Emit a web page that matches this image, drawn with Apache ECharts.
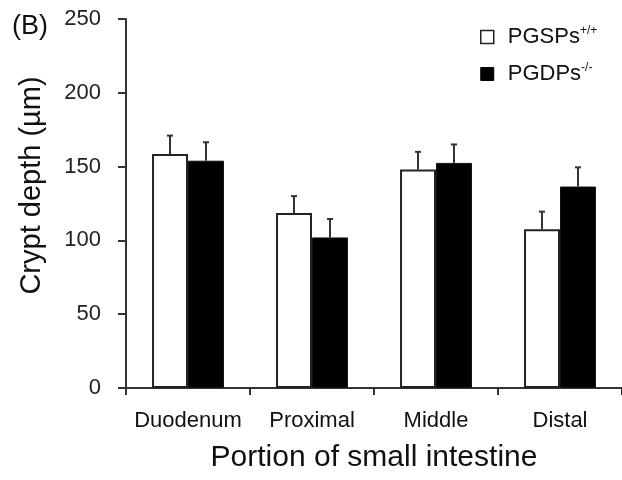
<!DOCTYPE html>
<html>
<head>
<meta charset="utf-8">
<script src="https://cdn.jsdelivr.net/npm/echarts@6/dist/echarts.min.js"></script>
<style>
html, body { margin: 0; padding: 0; background: #fff; }
#chart { width: 622px; height: 480px; }
</style>
</head>
<body>
<div id="chart"></div>
<script>
// data
var portions = ['Duodenum', 'Proximal', 'Middle', 'Distal'];
var wildMean = [158.5, 118.5, 148, 107.5];
var wildErr = [12.5, 11.5, 12, 12];
var knockMean = [154, 102, 152.5, 136.5];
var knockErr = [12.5, 12.5, 12.5, 13];
var yTicks = [0, 50, 100, 150, 200, 250];

var font = 'Liberation Sans, Arial, sans-serif';
var barFrac = 0.29;   // bar width as share of category

function errorSeries(means, errs, side) {
  return {
    type: 'custom',
    z: 1,
    data: means.map(function (m, i) { return [i, m, m + errs[i]]; }),
    renderItem: function (params, api) {
      var band = api.size([1, 0])[0];
      var base = api.coord([api.value(0), api.value(1)]);
      var top = api.coord([api.value(0), api.value(2)]);
      var x = base[0] + side * band * barFrac / 2;
      var style = { stroke: '#333', lineWidth: 2 };
      return {
        type: 'group',
        children: [
          { type: 'line', shape: { x1: x, y1: base[1], x2: x, y2: top[1] }, style: style },
          { type: 'line', shape: { x1: x - 3, y1: top[1], x2: x + 3, y2: top[1] }, style: style }
        ]
      };
    }
  };
}

var chart = echarts.init(document.getElementById('chart'));
chart.setOption({
  animation: false,
  backgroundColor: '#fff',
  title: {
    text: '(B)',
    left: 7,
    top: 8,
    textStyle: { fontFamily: font, fontSize: 27, fontWeight: 'normal', color: '#111' }
  },
  legend: {
    orient: 'vertical',
    left: 480,
    top: 25,
    padding: 0,
    itemWidth: 13,
    itemHeight: 13,
    itemGap: 14,
    data: [
      { name: 'PGSPs', icon: 'rect', itemStyle: { color: '#fff', borderColor: '#222', borderWidth: 1.5 } },
      { name: 'PGDPs', icon: 'rect', itemStyle: { color: '#000', borderColor: '#000', borderWidth: 1 } }
    ],
    formatter: function (name) {
      return '{a|' + name + '}{b|' + (name === 'PGSPs' ? '+/+' : '-/-') + '}';
    },
    textStyle: {
      rich: {
        a: { fontFamily: font, fontSize: 22, color: '#111', lineHeight: 24, padding: [0, 0, 0, 9] },
        b: { fontFamily: font, fontSize: 12, color: '#111', verticalAlign: 'top', lineHeight: 24, padding: [0, 0, 8, 0] }
      }
    }
  },
  grid: { left: 126, top: 19, width: 498, bottom: 92 },
  xAxis: {
    type: 'category',
    data: portions,
    name: 'Portion of small intestine',
    nameLocation: 'middle',
    nameGap: 55,
    nameTextStyle: { fontFamily: font, fontSize: 30, color: '#111' },
    axisLine: { lineStyle: { color: '#333', width: 2 } },
    axisTick: { show: true, length: 7, interval: 0, lineStyle: { color: '#333', width: 2 } },
    axisLabel: { fontFamily: font, fontSize: 22, color: '#111', margin: 22, interval: 0 }
  },
  yAxis: {
    type: 'value',
    min: yTicks[0],
    max: yTicks[yTicks.length - 1],
    interval: yTicks[1] - yTicks[0],
    name: 'Crypt depth (µm)',
    nameLocation: 'middle',
    nameGap: 80,
    nameTextStyle: { fontFamily: font, fontSize: 29, color: '#111', padding: [0, 0, 0, 36] },
    axisLine: { show: true, lineStyle: { color: '#333', width: 2 } },
    axisTick: { show: true, length: 8, lineStyle: { color: '#333', width: 2 } },
    axisLabel: { fontFamily: font, fontSize: 22, color: '#222', margin: 25 },
    splitLine: { show: false }
  },
  series: [
    {
      name: 'PGSPs',
      type: 'bar',
      data: wildMean,
      barWidth: (barFrac * 100) + '%',
      barGap: '0%',
      z: 2,
      itemStyle: { color: '#fff', borderColor: '#222', borderWidth: 2 }
    },
    {
      name: 'PGDPs',
      type: 'bar',
      data: knockMean,
      barWidth: (barFrac * 100) + '%',
      barGap: '0%',
      z: 2,
      itemStyle: { color: '#000', borderColor: '#111', borderWidth: 1 }
    },
    errorSeries(wildMean, wildErr, -1),
    errorSeries(knockMean, knockErr, 1)
  ]
});
</script>
</body>
</html>
